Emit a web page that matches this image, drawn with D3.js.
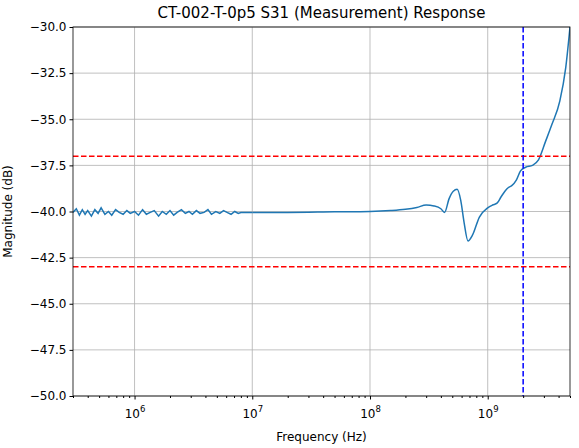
<!DOCTYPE html>
<html><head><meta charset="utf-8">
<script src="https://cdn.jsdelivr.net/npm/d3@7"></script>
<style>body{margin:0;background:#fff}text{font-family:"DejaVu Sans",sans-serif}</style>
</head><body><svg id="c" width="579" height="448"></svg>
<script>
const noisyFreq=[3e5,3.2e5,3.4e5,3.6e5,3.8e5,4e5,4.3e5,4.6e5,4.9e5,5.2e5,5.6e5,6e5,6.4e5,6.9e5,7.4e5,8e5,8.6e5,9.2e5,1e6,1.08e6,1.17e6,1.26e6,1.36e6,1.47e6,1.6e6,1.72e6,1.86e6,2e6,2.15e6,2.3e6,2.5e6,2.7e6,2.9e6,3.1e6,3.35e6,3.6e6,3.9e6,4.2e6,4.5e6,4.9e6,5.3e6,5.7e6,6.1e6,6.6e6,7.1e6,7.6e6,8e6];
const noisyDb=[-40.05,-39.85,-40.2,-39.9,-40.15,-39.95,-40.25,-39.9,-40.1,-39.8,-40.15,-40.0,-40.2,-39.9,-40.05,-40.15,-39.95,-40.1,-40.0,-40.2,-39.9,-40.15,-40.05,-39.95,-40.25,-40.0,-40.15,-39.95,-40.2,-40.05,-39.9,-40.1,-40.0,-40.15,-39.95,-40.1,-40.05,-39.9,-40.15,-40.0,-40.1,-39.95,-40.05,-40.15,-40.0,-40.1,-40.05];
const smoothFreq=[1e7,2e7,5e7,1e8,1.5e8,2e8,2.5e8,3e8,3.5e8,4e8,4.3e8,4.7e8,5.1e8,5.5e8,5.9e8,6.3e8,6.8e8,7.4e8,8.5e8,1e9,1.1e9,1.2e9,1.3e9,1.4e9,1.5e9,1.6e9,1.75e9,1.9e9,2.1e9,2.4e9,2.7e9,3.1e9,3.5e9,4.1e9,4.6e9,5e9];
const smoothDb=[-40.05,-40.05,-40.02,-40.0,-39.95,-39.88,-39.78,-39.65,-39.7,-39.85,-40.05,-39.3,-38.9,-38.8,-39.4,-40.6,-41.6,-41.3,-40.3,-39.8,-39.65,-39.55,-39.2,-38.9,-38.7,-38.6,-38.3,-37.8,-37.6,-37.5,-37.2,-36.2,-35.3,-34.0,-32.2,-30.0];
const hLines=[-37,-43], vLine=2e9;
const yTicks=[-50,-47.5,-45,-42.5,-40,-37.5,-35,-32.5,-30];
const xMajor=[1e6,1e7,1e8,1e9];
const L=73,R=570,T=27,B=396;
const svg=d3.select("#c");
const x=d3.scaleLog().domain([3e5,5e9]).range([L,R]);
const y=d3.scaleLinear().domain([-50,-30]).range([B,T]);
svg.append("g").selectAll("line").data(xMajor).join("line").attr("x1",d=>x(d)).attr("x2",d=>x(d)).attr("y1",T).attr("y2",B).attr("stroke","#b0b0b0").attr("stroke-width",0.8);
svg.append("g").selectAll("line").data(yTicks).join("line").attr("x1",L).attr("x2",R).attr("y1",d=>y(d)).attr("y2",d=>y(d)).attr("stroke","#b0b0b0").attr("stroke-width",0.8);
svg.append("defs").append("clipPath").attr("id","cp").append("rect").attr("x",L).attr("y",T).attr("width",R-L).attr("height",B-T);
const noisy=noisyFreq.map((f,i)=>[f,noisyDb[i]]).concat([[smoothFreq[0],smoothDb[0]]]);
const smooth=smoothFreq.map((f,i)=>[f,smoothDb[i]]);
svg.append("path").datum(noisy).attr("clip-path","url(#cp)").attr("fill","none").attr("stroke","#1f77b4").attr("stroke-width",1.5)
 .attr("d",d3.line().x(d=>x(d[0])).y(d=>y(d[1])));
svg.append("path").datum(smooth).attr("clip-path","url(#cp)").attr("fill","none").attr("stroke","#1f77b4").attr("stroke-width",1.5)
 .attr("d",d3.line().x(d=>x(d[0])).y(d=>y(d[1])).curve(d3.curveMonotoneX));
hLines.forEach(v=>svg.append("line").attr("x1",L).attr("x2",R).attr("y1",y(v)).attr("y2",y(v)).attr("stroke","red").attr("stroke-width",1.5).attr("stroke-dasharray","5.5,2.5"));
svg.append("line").attr("x1",x(vLine)).attr("x2",x(vLine)).attr("y1",T).attr("y2",B).attr("stroke","blue").attr("stroke-width",1.5).attr("stroke-dasharray","5.5,2.5");
const xa=svg.append("g").attr("transform",`translate(0,${B})`).call(d3.axisBottom(x).tickValues(xMajor).tickSize(3.5).tickFormat(()=>""));
xa.selectAll(".tick").each(function(d){const t=d3.select(this).append("text").attr("y",22).attr("fill","#000").attr("text-anchor","middle").style("font-size","12px");t.append("tspan").text("10");t.append("tspan").attr("dy",-6).style("font-size","8.5px").text(Math.round(Math.log10(d)));});
const minors=[];[1e5,1e6,1e7,1e8,1e9].forEach(b=>{for(let k=2;k<10;k++){const v=b*k;if(v>=3e5&&v<=5e9)minors.push(v);}});
svg.append("g").attr("transform",`translate(0,${B})`).call(d3.axisBottom(x).tickValues(minors).tickSize(2).tickFormat(""));
svg.append("g").attr("transform",`translate(${L},0)`).call(d3.axisLeft(y).tickValues(yTicks).tickSize(3.5).tickFormat(d=>d3.format(".1f")(d).replace("-","−"))).selectAll("text").style("font-size","12px").attr("fill","#000");
svg.selectAll(".domain").remove();
svg.append("rect").attr("x",L).attr("y",T).attr("width",R-L).attr("height",B-T).attr("fill","none").attr("stroke","#000").attr("stroke-width",0.8);
svg.append("text").attr("x",(L+R)/2).attr("y",18).attr("text-anchor","middle").style("font-size","15px").text("CT-002-T-0p5 S31 (Measurement) Response");
svg.append("text").attr("x",(L+R)/2).attr("y",441).attr("text-anchor","middle").style("font-size","12px").text("Frequency (Hz)");
svg.append("text").attr("transform",`translate(12,${(T+B)/2}) rotate(-90)`).attr("text-anchor","middle").style("font-size","12px").text("Magnitude (dB)");
</script></body></html>
